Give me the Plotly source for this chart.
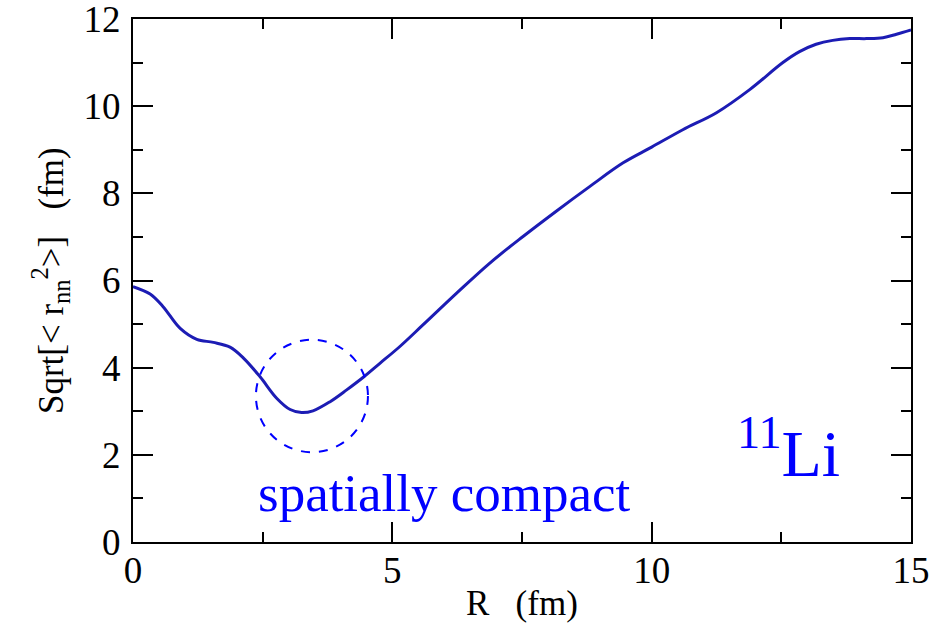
import plotly.graph_objects as go

# Data
R = [0.0, 0.33, 0.58, 0.91, 1.23, 1.55, 1.87, 2.13, 2.45, 2.77, 3.03, 3.25, 3.47,
     3.80, 4.12, 4.44, 4.76, 5.14, 5.59, 6.24, 6.88, 7.52, 8.16, 8.81, 9.45,
     10.0, 10.60, 11.25, 11.89, 12.53, 12.85, 13.17, 13.49, 13.82, 14.14,
     14.46, 14.72, 15.0]
rnn = [5.86, 5.69, 5.40, 4.90, 4.65, 4.58, 4.47, 4.22, 3.79, 3.30, 3.04, 2.97, 3.01,
       3.22, 3.49, 3.78, 4.10, 4.48, 4.98, 5.71, 6.40, 7.01, 7.59, 8.16, 8.70,
       9.06, 9.46, 9.85, 10.38, 11.0, 11.25, 11.42, 11.51, 11.55, 11.55,
       11.57, 11.65, 11.75]

x_ticks = [0, 5, 10, 15]
y_ticks = [0, 2, 4, 6, 8, 10, 12]

# highlighted region (circle) in data units
circle_cx, circle_cy = 3.45, 3.35
circle_rx, circle_ry = 1.08, 1.29

serif = "Liberation Serif, Times New Roman, serif"

fig = go.Figure()
fig.add_trace(go.Scatter(
    x=R, y=rnn, mode="lines",
    line=dict(color="#1c1cb4", width=3, shape="spline", smoothing=1.0),
    showlegend=False, hoverinfo="skip",
))

fig.add_shape(type="circle", xref="x", yref="y",
              x0=circle_cx - circle_rx, x1=circle_cx + circle_rx,
              y0=circle_cy - circle_ry, y1=circle_cy + circle_ry,
              line=dict(color="#0000ff", width=2, dash="dash"))

fig.add_annotation(text="spatially compact", xref="x", yref="y",
                   x=6.0, y=1.12, showarrow=False,
                   font=dict(family=serif, size=53, color="#0000ff"))
fig.add_annotation(text="<sup>11</sup>Li", xref="x", yref="y",
                   x=12.64, y=2.15, showarrow=False,
                   font=dict(family=serif, size=66, color="#0000ff"))

# axis titles
fig.add_annotation(text="R   (fm)", xref="paper", yref="paper",
                   x=0.5, y=-0.118, xanchor="center", yanchor="middle", showarrow=False,
                   font=dict(family=serif, size=35, color="black"))
fig.add_annotation(text="Sqrt[&lt; r<sub>nn</sub><sup>2</sup>&gt;]   (fm)",
                   xref="paper", yref="paper", textangle=-90,
                   x=-0.106, y=0.50, xanchor="center", yanchor="middle", showarrow=False,
                   font=dict(family=serif, size=35, color="black"))

axis_common = dict(
    showgrid=False, zeroline=False, automargin=False,
    showline=True, linecolor="black", linewidth=2, mirror="allticks",
    ticks="inside", ticklen=20, tickwidth=2, tickcolor="black",
    tickfont=dict(family=serif, size=37, color="black"),
    ticklabeloverflow="allow",
)

fig.update_xaxes(range=[0, 15], tickvals=x_ticks, ticklabelstandoff=-5,
                 minor=dict(ticks="inside", ticklen=10, tickwidth=2, dtick=2.5, tickcolor="black"),
                 **axis_common)
fig.update_yaxes(range=[0, 12], tickvals=y_ticks, ticklabelstandoff=3,
                 minor=dict(ticks="inside", ticklen=10, tickwidth=2, dtick=1, tickcolor="black"),
                 **axis_common)

fig.update_layout(
    width=933, height=625,
    margin=dict(l=133, r=22, t=19, b=83),
    plot_bgcolor="white", paper_bgcolor="white",
)

fig.write_html("out.html", config={"displayModeBar": False},
               post_script="document.body.style.margin='0';document.body.style.overflow='hidden';")
